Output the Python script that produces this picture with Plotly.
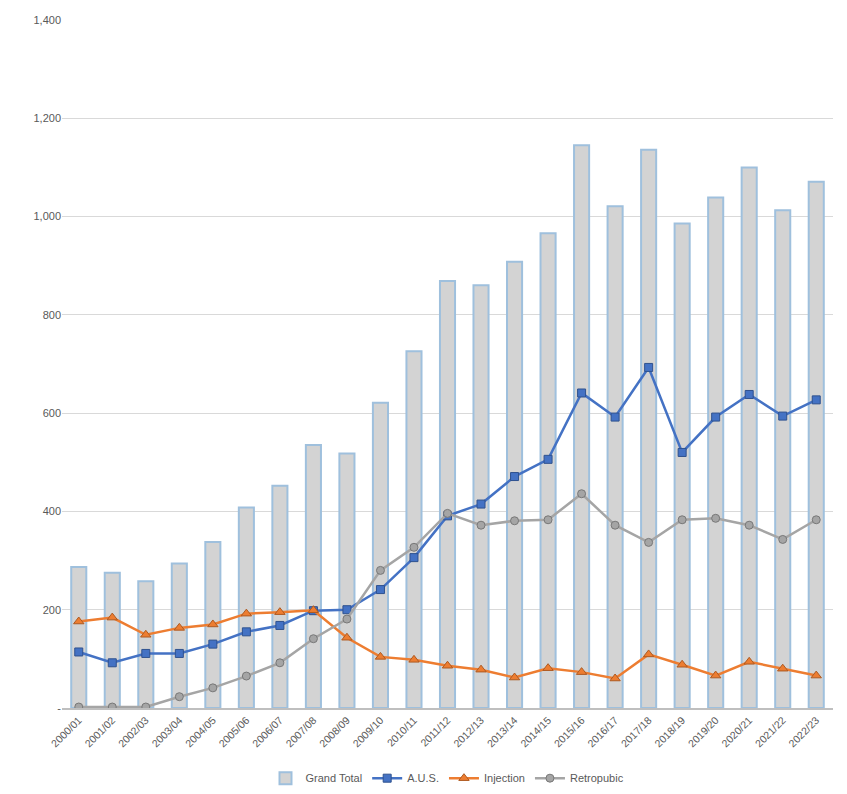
import plotly.graph_objects as go

# financial years shown along the x axis
years = ['2000/01', '2001/02', '2002/03', '2003/04', '2004/05', '2005/06', '2006/07',
         '2007/08', '2008/09', '2009/10', '2010/11', '2011/12', '2012/13', '2013/14',
         '2014/15', '2015/16', '2016/17', '2017/18', '2018/19', '2019/20', '2020/21',
         '2021/22', '2022/23']

grand_total = [287, 275, 258, 294, 338, 408, 452, 535, 518, 621, 726, 869, 860, 908,
               966, 1145, 1021, 1136, 986, 1039, 1100, 1013, 1071]
aus = [114, 92, 111, 111, 130, 155, 168, 198, 200, 241, 306, 391, 415, 471,
       506, 641, 592, 693, 520, 592, 638, 594, 627]
injection = [176, 184, 149, 163, 170, 192, 195, 199, 143, 104, 98, 86, 78, 62,
             81, 73, 60, 109, 88, 66, 94, 80, 66]
retropubic = [2, 2, 2, 23, 41, 65, 92, 141, 181, 280, 327, 396, 372, 381,
              383, 436, 372, 337, 383, 386, 372, 343, 383]

y_ticks = [0, 200, 400, 600, 800, 1000, 1200, 1400]
y_labels = ['-', '200', '400', '600', '800', '1,000', '1,200', '1,400']

fig = go.Figure()

fig.add_trace(go.Bar(
    x=years, y=grand_total, name='Grand Total',
    marker=dict(color='#d3d3d3', line=dict(color='#9fc0dd', width=2))))

fig.add_trace(go.Scatter(
    x=years, y=aus, name='A.U.S.', mode='lines+markers',
    line=dict(color='#4472c4', width=2.5),
    marker=dict(symbol='square', size=8, color='#4472c4',
                line=dict(color='#2f528f', width=1))))

fig.add_trace(go.Scatter(
    x=years, y=injection, name='Injection', mode='lines+markers',
    line=dict(color='#ed7d31', width=2.5),
    marker=dict(symbol='triangle-up', size=9, color='#ed7d31',
                line=dict(color='#ae5a21', width=1))))

fig.add_trace(go.Scatter(
    x=years, y=retropubic, name='Retropubic', mode='lines+markers',
    line=dict(color='#a5a5a5', width=2.5),
    marker=dict(symbol='circle', size=8, color='#a5a5a5',
                line=dict(color='#787878', width=1))))

# page body keeps its 8px margin, so the figure is 16px smaller than the window
fig.update_layout(
    width=831, height=778,
    margin=dict(l=54, r=6, t=12, b=78, autoexpand=False),
    paper_bgcolor='white', plot_bgcolor='white',
    font=dict(family='Liberation Sans, Arial, sans-serif', size=11, color='#595959'),
    bargap=0.55,
    legend=dict(orientation='h', x=0.5, xanchor='center', y=-0.102, yanchor='middle',
                font=dict(size=11, color='#595959'), traceorder='normal',
                itemwidth=30, bgcolor='rgba(0,0,0,0)'),
    showlegend=True,
)

fig.update_xaxes(
    type='category', range=[-0.5, len(years) - 0.5],
    tickangle=-45, tickfont=dict(size=10.5),
    showline=True, linecolor='#bfbfbf', linewidth=2,
    showgrid=False, ticks='', automargin=False)

fig.update_yaxes(
    range=[0, 1400], tickvals=y_ticks, ticktext=y_labels,
    showgrid=True, gridcolor='#d9d9d9', gridwidth=1,
    zeroline=False, showline=False, ticks='', ticklen=0,
    tickfont=dict(size=11), automargin=False)

fig.write_html("out.html")
